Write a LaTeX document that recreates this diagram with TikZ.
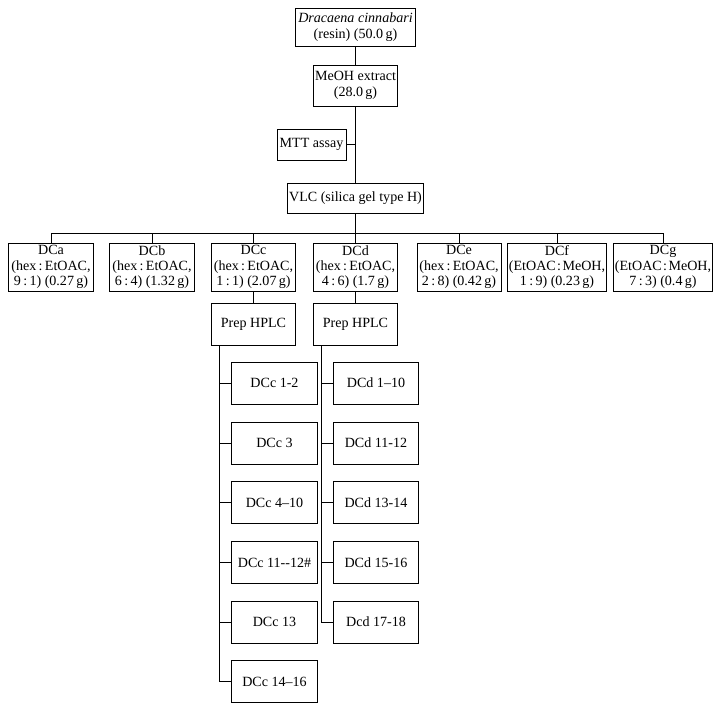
\documentclass[tikz,border=0pt]{standalone}
\usepackage{fontspec}
\setmainfont{Liberation Serif}
\usetikzlibrary{calc,positioning}
\tikzset{every path/.style={line width=0.7pt}}
\tikzset{box/.style={draw, line width=0.7pt, align=center, inner xsep=1pt, inner ysep=1pt,
    font=\fontsize{10}{10.9}\selectfont}}
\tikzset{dcbox/.style={box, minimum width=2.1cm, minimum height=1.2cm}}
\tikzset{subbox/.style={box, minimum width=2.125cm, minimum height=1.05cm}}

\begin{document}
\begin{tikzpicture}[x=0.025cm, y=-0.025cm]
  \useasboundingbox (0,0) rectangle (717,711);
  % main column
  \node[box, minimum width=2.975cm, minimum height=0.95cm] (resin) at (355.5,27)
    {\textit{Dracaena cinnabari}\\(resin) (50.0\,g)};
  \node[box, minimum width=2.1cm, minimum height=1.025cm] (meoh) at (355.5,85.5)
    {MeOH extract\\(28.0\,g)};
  \node[box, minimum width=1.725cm, minimum height=0.775cm] (mtt) at (311.5,144.5) {MTT assay};
  \node[box, minimum width=3.325cm, minimum height=0.75cm] (vlc) at (355.5,198)
    {VLC (silica gel type H)};
  \draw (resin) -- (meoh);
  \draw (meoh) -- (vlc);
  \draw (mtt.east) -- (mtt.east -| meoh.south);
  % fractions
  \node[dcbox] (dca) at (51,267) {DCa\\(hex\,:\,EtOAC,\\9\,:\,1) (0.27\,g)};
  \node[dcbox] (dcb) at (152,267) {DCb\\(hex\,:\,EtOAC,\\6\,:\,4) (1.32\,g)};
  \node[dcbox] (dcc) at (253.5,267) {DCc\\(hex\,:\,EtOAC,\\1\,:\,1) (2.07\,g)};
  \node[dcbox] (dcd) at (355.5,267) {DCd\\(hex\,:\,EtOAC,\\4\,:\,6) (1.7\,g)};
  \node[dcbox] (dce) at (459,267) {DCe\\(hex\,:\,EtOAC,\\2\,:\,8) (0.42\,g)};
  \node[dcbox] (dcf) at (557,267) {DCf\\(EtOAC\hspace{1pt}:\hspace{1pt}MeOH,\\1\,:\,9) (0.23\,g)};
  \node[dcbox] (dcg) at (663,267) {DCg\\(EtOAC\hspace{1pt}:\hspace{1pt}MeOH,\\7\,:\,3) (0.4\,g)};
  \draw (vlc) -- (vlc |- dcd.north);
  \draw (dca.north) -- ++(0,-9) -| (dcg.north);
  \foreach \n in {b,c,d,e,f}
    \draw (dc\n.north) -- ++(0,-9);
  % prep HPLC
  \node[subbox, minimum width=2.1cm] (prepc) at (253.5,324) {Prep HPLC};
  \node[subbox, minimum width=2.1cm] (prepd) at (355.5,324) {Prep HPLC};
  \draw (dcc) -- (prepc);
  \draw (dcd) -- (prepd);
  % sub-fractions
  \foreach \i/\y/\t in {1/383/{DCc 1-2}, 2/443/{DCc 3}, 3/502.5/{DCc 4--10},
      4/562.5/{DCc 11-{}-12\#}, 5/622/{DCc 13}, 6/681.5/{DCc 14--16}}
    \node[subbox] (c\i) at (274.5,\y) {\t};
  \foreach \i/\y/\t in {1/383/{DCd 1--10}, 2/443/{DCd 11-12}, 3/502.5/{DCd 13-14},
      4/562.5/{DCd 15-16}, 5/622/{Dcd 17-18}}
    \node[subbox] (d\i) at (376,\y) {\t};
  \coordinate (ctrunk) at ($(prepc.south west)+(8,0)$);
  \coordinate (dtrunk) at ($(prepd.south west)+(8,0)$);
  \draw (ctrunk) |- (c6.west);
  \foreach \i in {1,...,5}
    \draw (c\i.west) -- (c\i.west -| ctrunk);
  \draw (dtrunk) |- (d5.west);
  \foreach \i in {1,...,4}
    \draw (d\i.west) -- (d\i.west -| dtrunk);
\end{tikzpicture}
\end{document}
